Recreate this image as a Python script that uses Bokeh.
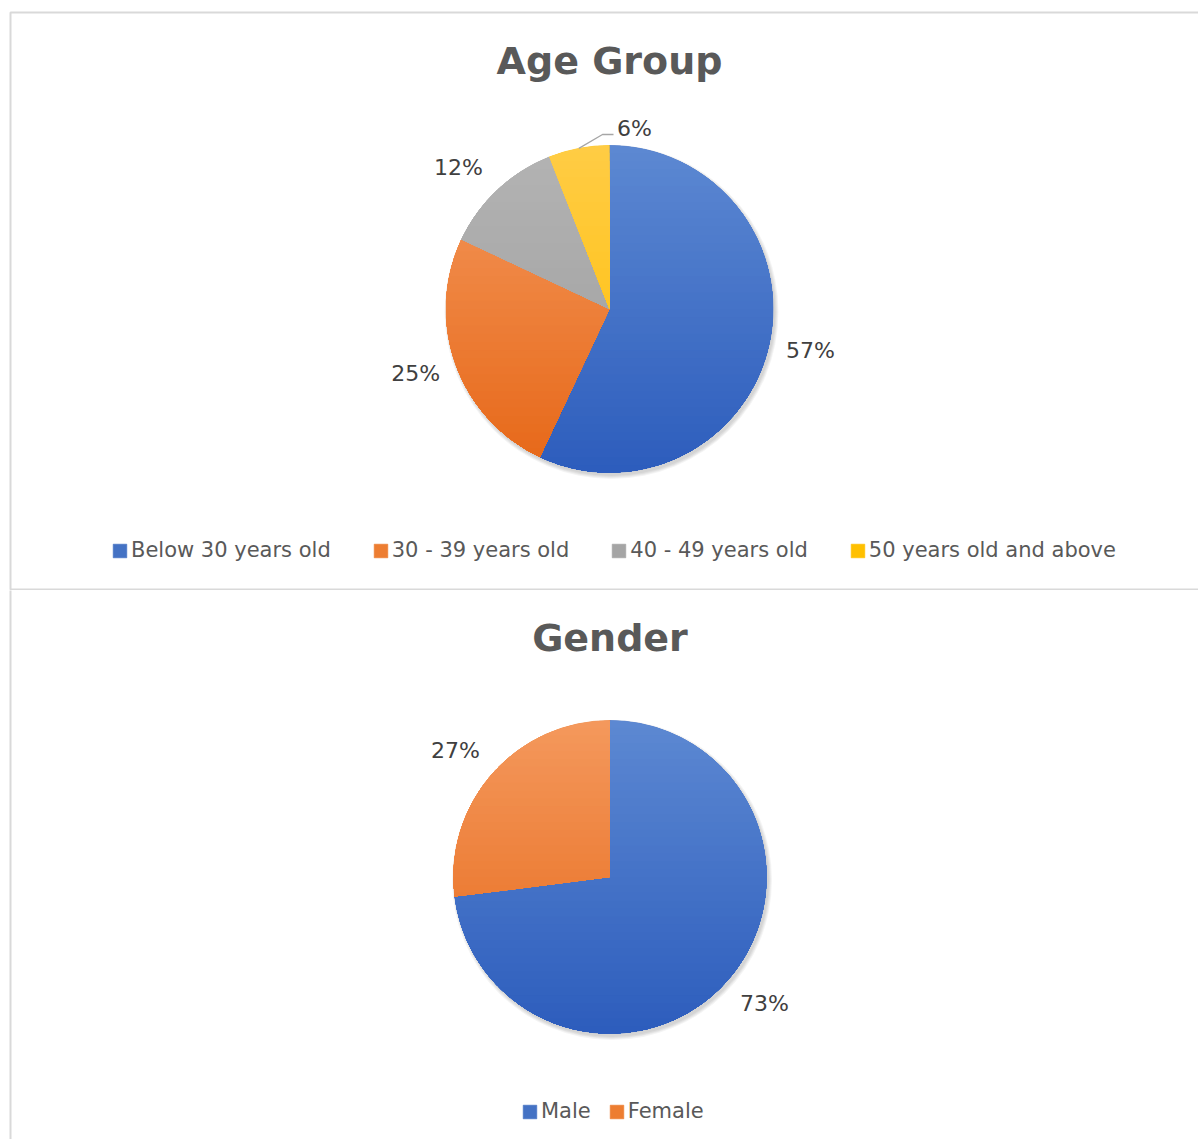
import numpy as np
from bokeh.plotting import figure
from bokeh.models import ColumnDataSource, Range1d, Legend, LegendItem
from bokeh.layouts import column
from bokeh.embed import file_html
from bokeh.resources import INLINE
from bokeh.core.properties import value

# ---------------- data ----------------
age_labels = ["Below 30 years old", "30 - 39 years old", "40 - 49 years old", "50 years old and above"]
age_values = [57, 25, 12, 6]
gender_labels = ["Male", "Female"]
gender_values = [73, 27]

# ---------------- style ----------------
# (legend colour, gradient top colour, gradient bottom colour) per series
BLUE = ("#4472C4", (0x5C, 0x88, 0xD2), (0x2C, 0x5C, 0xBC))
ORANGE = ("#ED7D31", (0xF4, 0x98, 0x5C), (0xE6, 0x66, 0x16))
GREY = ("#A5A5A5", (0xB3, 0xB3, 0xB3), (0x9C, 0x9C, 0x9C))
GOLD = ("#FFC000", (0xFF, 0xCC, 0x44), (0xFF, 0xBD, 0x00))
age_styles = [BLUE, ORANGE, GREY, GOLD]
gender_styles = [BLUE, ORANGE]

PAGE_W = 1198
FONT = "DejaVu Sans"
BORDER = "#d9d9d9"


def clip_below(xs, ys, yt):
    ox, oy = [], []
    n = len(xs)
    for i in range(n):
        x1, y1 = xs[i], ys[i]
        x2, y2 = xs[(i + 1) % n], ys[(i + 1) % n]
        in1, in2 = y1 <= yt, y2 <= yt
        if in1:
            ox.append(x1)
            oy.append(y1)
        if in1 != in2:
            t = (yt - y1) / (y2 - y1)
            ox.append(x1 + t * (x2 - x1))
            oy.append(yt)
    return ox, oy


def hexcol(c):
    return "#%02x%02x%02x" % tuple(int(round(v)) for v in c)


def make_pie(title, labels, values, styles, y_top, height, cx, cy_page, r,
             title_mid, legend_x, legend_y, legend_spacing, label_gap,
             callouts, label_moves, top_line, bottom_line):
    p = figure(width=PAGE_W, height=height,
               x_range=Range1d(0, PAGE_W),
               y_range=Range1d(-(y_top + height), -y_top),
               output_backend="svg", toolbar_location=None, tools="",
               x_axis_location=None, y_axis_location=None, min_border=0)
    p.grid.visible = False
    p.outline_line_color = None
    p.background_fill_color = "white"
    p.border_fill_color = "white"

    cy = -cy_page

    # border of the chart area
    p.quad(left=[10], right=[1205], top=[-top_line], bottom=[-bottom_line],
           fill_color=None, line_color=BORDER, line_width=2)

    # soft shadow
    for rr in [r + 0.5, r + 1.5, r + 2.5, r + 3.5]:
        p.circle(x=[cx + 2], y=[cy - 3], radius=[rr], fill_color="black",
                 fill_alpha=0.045, line_color=None)

    vals = np.array(values, dtype=float)
    frac = vals / vals.sum()
    cum = np.concatenate([[0.0], np.cumsum(frac)])
    start = np.pi / 2 - 2 * np.pi * cum[:-1]
    end = np.pi / 2 - 2 * np.pi * cum[1:]
    mid = (start + end) / 2

    colors = [s[0] for s in styles]
    src = ColumnDataSource(dict(start=start, end=end, color=colors, label=labels))
    wr = p.wedge(x=cx, y=cy, radius=r, start_angle="start", end_angle="end",
                 direction="clock", fill_color="color", line_color="color",
                 line_width=0.6, source=src)

    # vertical gradient fill of every slice (top lighter, bottom darker)
    N = 40
    gx, gy, gc = [], [], []
    for i in range(len(values)):
        th = np.linspace(start[i], end[i], 240)
        px = [cx] + list(cx + r * np.cos(th))
        py = [cy] + list(cy + r * np.sin(th))
        c0 = np.array(styles[i][1], float)
        c1 = np.array(styles[i][2], float)
        for k in range(N + 1):
            yt = cy + r + 1 - k * (2 * r + 2) / N
            ox, oy = clip_below(px, py, yt)
            if len(ox) < 3:
                continue
            gx.append(ox)
            gy.append(oy)
            gc.append(hexcol(c0 + (c1 - c0) * k / N))
    p.patches(xs=gx, ys=gy, fill_color=gc, line_color=None)

    # data labels: box placed just outside the slice along its mid angle
    ux, uy = np.cos(mid), np.sin(mid)
    lx = list(cx + (r + label_gap + 23.5) * ux)
    ly = list(cy + (r + label_gap + 9) * uy)
    for i, (qx, qy) in label_moves.items():
        lx[i] = qx
        ly[i] = -qy
    for i, (qx, qy) in callouts.items():
        lx[i] = qx
        ly[i] = -qy
        ax = cx + r * np.cos(mid[i])
        ay = cy + r * np.sin(mid[i])
        left_edge = qx - 17
        p.line(x=[ax, left_edge - 15, left_edge - 4], y=[ay, -qy - 6, -qy - 6],
               line_color="#a6a6a6", line_width=1.3)
    pct = [f"{v}%" for v in values]
    p.text(x=lx, y=ly, text=pct, text_font=value(FONT), text_font_size="22px",
           text_color="#404040", text_align="center", text_baseline="middle")

    # title
    p.text(x=[cx], y=[-title_mid], text=[title], text_font=value(FONT),
           text_font_style="bold", text_font_size="38px", text_color="#595959",
           text_align="center", text_baseline="middle")

    items = [LegendItem(label=lab, renderers=[wr], index=i) for i, lab in enumerate(labels)]
    leg = Legend(items=items, orientation="horizontal", location=(legend_x, legend_y),
                 glyph_width=17, glyph_height=17, label_height=17,
                 label_standoff=3, spacing=legend_spacing, padding=0, margin=0,
                 border_line_color=None, background_fill_alpha=0,
                 label_text_font=FONT, label_text_font_size="21px",
                 label_text_color="#595959")
    p.add_layout(leg, "center")
    return p


p1 = make_pie("Age Group", age_labels, age_values, age_styles,
              y_top=0, height=590, cx=609, cy_page=308.5, r=163.5,
              title_mid=60, legend_x=111, legend_y=28, legend_spacing=41,
              label_gap=19, callouts={3: (634, 128)}, label_moves={2: (458, 167)},
              top_line=12, bottom_line=589)
p2 = make_pie("Gender", gender_labels, gender_values, gender_styles,
              y_top=590, height=549, cx=609.5, cy_page=876.5, r=156.5,
              title_mid=637, legend_x=521, legend_y=16, legend_spacing=17,
              label_gap=26, callouts={}, label_moves={}, top_line=560,
              bottom_line=1160)

layout = column(p1, p2, spacing=0)
open("out.html", "w").write(file_html(layout, INLINE))
